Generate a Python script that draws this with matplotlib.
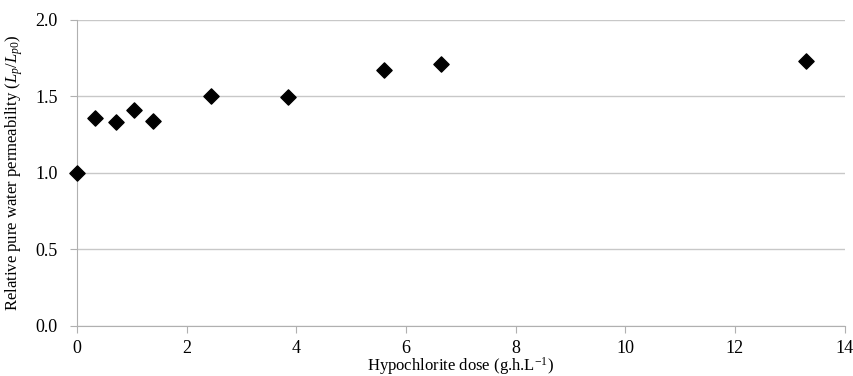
import matplotlib
matplotlib.use('Agg')
import matplotlib.pyplot as plt

plt.rcParams['font.family'] = 'Liberation Serif'
plt.rcParams['mathtext.fontset'] = 'custom'
plt.rcParams['mathtext.rm'] = 'Liberation Serif'
plt.rcParams['mathtext.it'] = 'Liberation Serif:italic'

dose = [0.0, 0.33, 0.71, 1.04, 1.39, 2.44, 3.85, 5.60, 6.64, 13.29]
rel_perm = [1.00, 1.36, 1.33, 1.41, 1.34, 1.50, 1.495, 1.67, 1.71, 1.73]

fig = plt.figure(figsize=(8.54, 3.76), dpi=100)
ax = fig.add_axes([0.090, 0.133, 0.899, 0.814])

ax.scatter(dose, rel_perm, marker='D', s=60, color='black', zorder=3, clip_on=False)

ax.set_xlim(0, 14)
ax.set_ylim(0, 2.0)
ax.set_xticks(range(0, 15, 2))
ax.set_yticks([0.0, 0.5, 1.0, 1.5, 2.0])
ax.set_yticklabels(['0.0', '0.5', '1.0', '1.5', '2.0'])
ax.yaxis.grid(True, color='#c8c8c8', linewidth=1)
ax.set_axisbelow(True)

for s in ['top', 'right']:
    ax.spines[s].set_visible(False)
for s in ['left', 'bottom']:
    ax.spines[s].set_color('#b0b0b0')
ax.tick_params(axis='y', length=5, color='#b0b0b0', labelsize=13, pad=9)
ax.tick_params(axis='x', length=5, color='#b0b0b0', labelsize=13, pad=5)

ax.set_xlabel('Hypochlorite dose (g.h.L$^{-1}$)', fontsize=12, labelpad=-1)
ax.set_ylabel('Relative pure water permeability ($L_p/L_{p0}$)', fontsize=12, labelpad=7)

fig.savefig('out.png', dpi=100)
